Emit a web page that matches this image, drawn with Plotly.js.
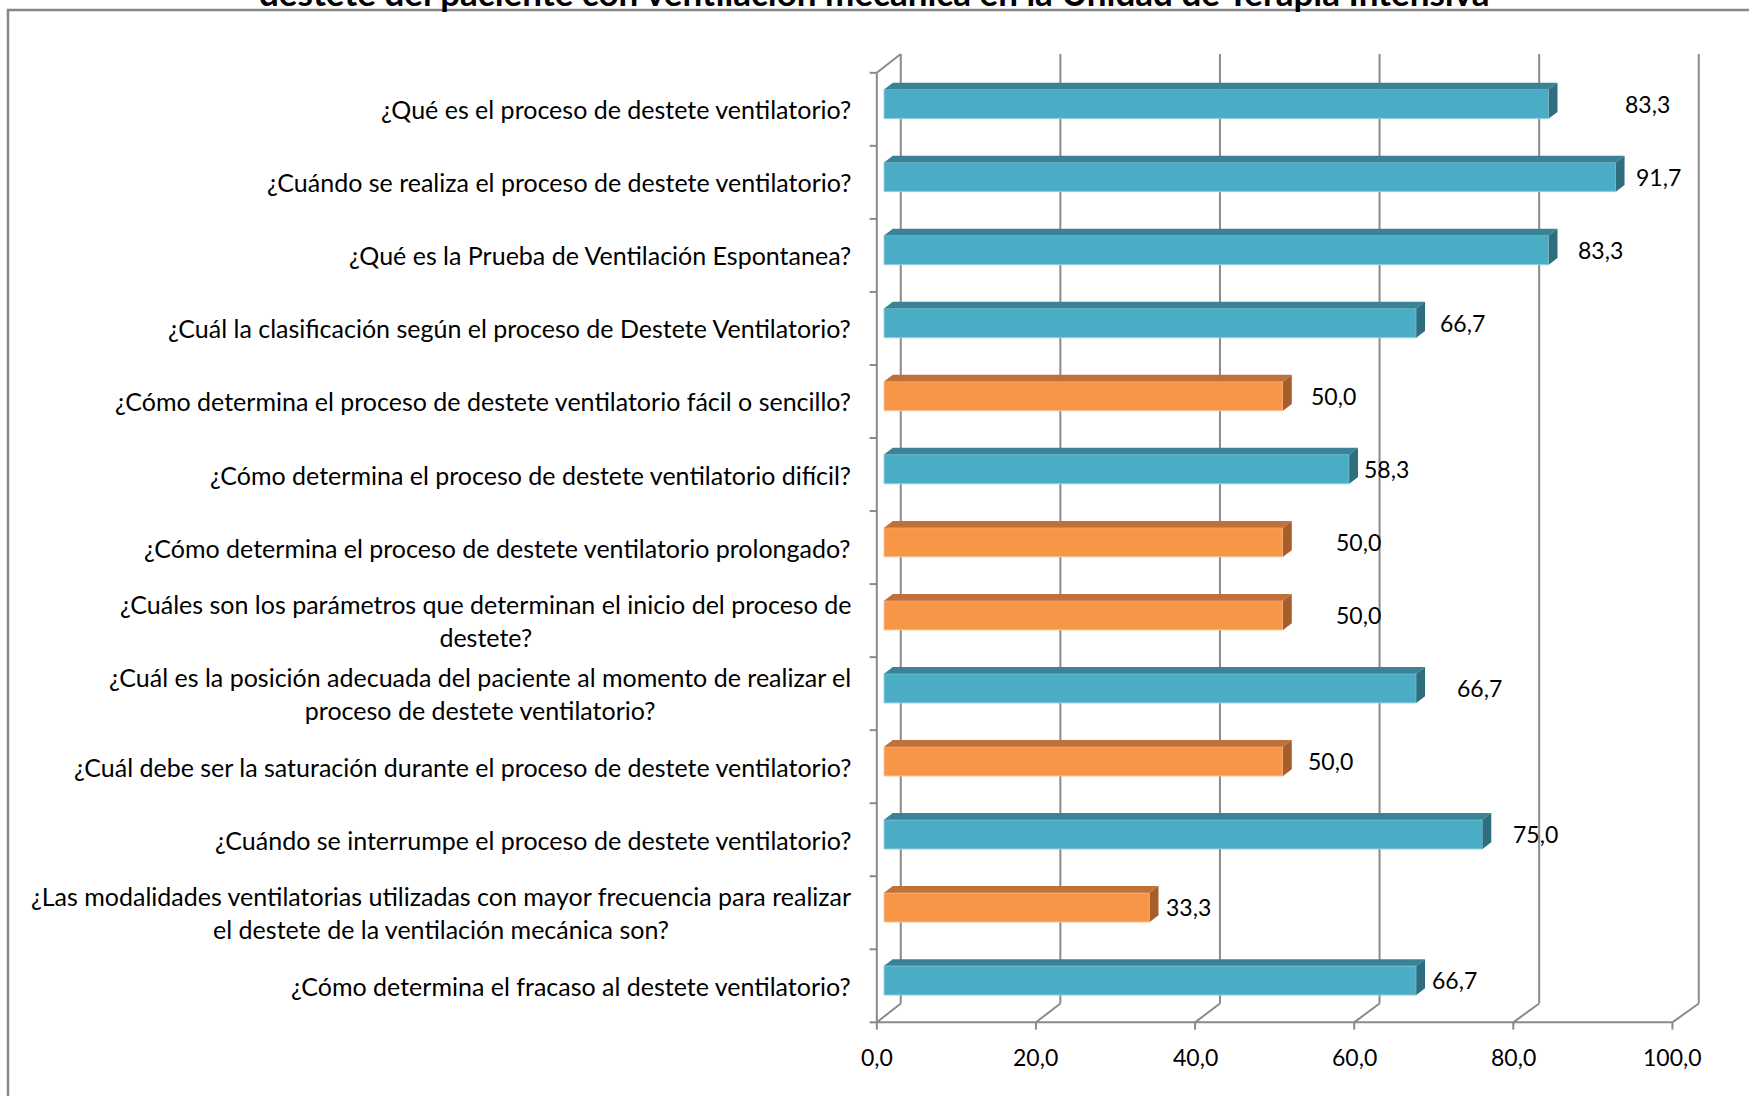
<!DOCTYPE html>
<html>
<head>
<meta charset="utf-8">
<script src="https://cdn.plot.ly/plotly-3.0.1.min.js"></script>
<style>
  html, body { margin: 0; padding: 0; background: #ffffff; }
  #chart { width: 1749px; height: 1096px; }
</style>
</head>
<body>
<div id="chart"></div>
<script>
// Preguntas del cuestionario (eje de categorías)
const preguntas = [
  "¿Qué es el proceso de destete ventilatorio?",
  "¿Cuándo se realiza el proceso de destete ventilatorio?",
  "¿Qué es la Prueba de Ventilación Espontanea?",
  "¿Cuál la clasificación según el proceso de Destete Ventilatorio?",
  "¿Cómo determina el proceso de destete ventilatorio fácil o sencillo?",
  "¿Cómo determina el proceso de destete ventilatorio difícil?",
  "¿Cómo determina el proceso de destete ventilatorio prolongado?",
  "¿Cuáles son los parámetros que determinan el inicio del proceso de<br>destete?",
  "¿Cuál es la posición adecuada del paciente al momento de realizar el<br>proceso de destete ventilatorio?",
  "¿Cuál debe ser la saturación durante el proceso de destete ventilatorio?",
  "¿Cuándo se interrumpe el proceso de destete ventilatorio?",
  "¿Las modalidades ventilatorias utilizadas con mayor frecuencia para realizar<br>el destete de la ventilación mecánica son?",
  "¿Cómo determina el fracaso al destete ventilatorio?"
];

// Porcentaje de respuestas correctas
const porcentajes = [83.3, 91.7, 83.3, 66.7, 50.0, 58.3, 50.0, 50.0, 66.7, 50.0, 75.0, 33.3, 66.7];

// Marcas del eje de valores
const marcasEje = [0, 20, 40, 60, 80, 100];

const tituloTexto = "destete del paciente con ventilación mecánica en la Unidad de Terapia Intensiva";

// ---- estilo / geometría ----
const FONT = "Lato, 'Open Sans', sans-serif";
const W = 1749, H = 1096;
const M = { l: 860, r: 35, t: 40, b: 56 };
const PX0 = 884, KX = 7.98;     // píxel del valor 0 y píxeles por unidad (plano de las barras)
const PY0 = 104, KY = 73.04;    // píxel de la primera categoría y píxeles por categoría
const plotW = W - M.l - M.r, plotH = H - M.t - M.b;
const xRange = [(M.l - PX0) / KX, (W - M.r - PX0) / KX];
const yRange = [(H - M.b - PY0) / KY, (M.t - PY0) / KY];
const px2paperX = p => (p - M.l) / plotW;
const px2paperY = p => (H - M.b - p) / plotH;
const y2paper = y => px2paperY(PY0 + y * KY);

const azulFrente = "#4BACC6", azulArriba = "#3A8397", azulLado = "#2F6E7E";
const naranjaFrente = "#F79646", naranjaArriba = "#C0713A", naranjaLado = "#A65E2C";
const gris = "#8A8A8A";

const BAR_H = 0.4;          // alto de la cara frontal (en categorías)
const DEPTH_X = 1.1;        // profundidad de la barra en x (unidades)
const DEPTH_Y = 0.092;      // profundidad de la barra en y (categorías)
const FRONT_DX = -0.9, FRONT_DY = 0.073;  // plano frontal de los ejes
const BACK_DX = 2.1, BACK_DY = -0.185;    // pared del fondo
const frontScale = 0.997;

// Desplazamiento horizontal de cada etiqueta de datos
const desplazEtiqueta = [12.4, 5.4, 6.5, 5.8, 6.3, 4.7, 9.4, 9.4, 7.9, 5.9, 6.6, 4.9, 4.8];

const idx = porcentajes.map((_, i) => i);
const esBajo = porcentajes.map(v => v <= 50);
const fmt = v => v.toFixed(1).replace(".", ",");

const shapes = [];
const annotations = [];

// Marco exterior del gráfico
shapes.push({
  type: "rect", xref: "paper", yref: "paper", layer: "above",
  x0: px2paperX(8), x1: px2paperX(1770), y0: px2paperY(10), y1: px2paperY(1120),
  line: { color: "#868686", width: 2.5 }, fillcolor: "rgba(0,0,0,0)"
});

const n = porcentajes.length;
const frontTop = -0.5 + FRONT_DY, frontBot = n - 0.5 + FRONT_DY;
const backTop = -0.5 + BACK_DY, backBot = n - 0.5 + BACK_DY;
const line = (x0, y0, x1, y1, w) => ({
  type: "line", xref: "x", yref: "y", layer: "below",
  x0, y0, x1, y1, line: { color: gris, width: w || 2 }
});

// Pared del fondo: líneas de división verticales
marcasEje.forEach(v => {
  shapes.push(line(v + BACK_DX, backTop, v + BACK_DX, backBot));
  // diagonales del piso
  const xf = FRONT_DX + v * frontScale;
  shapes.push(line(xf, frontBot, v + BACK_DX, backBot));
  // marcas hacia abajo del eje frontal
  shapes.push(line(xf, frontBot, xf, frontBot + 0.1));
});
// Borde frontal del piso
shapes.push(line(FRONT_DX, frontBot, FRONT_DX + 100 * frontScale, frontBot));
// Eje de categorías (frontal) y su diagonal superior
shapes.push(line(FRONT_DX, frontTop, FRONT_DX, frontBot));
shapes.push(line(FRONT_DX, frontTop, BACK_DX, backTop));
for (let k = 0; k <= n; k++) {
  const yk = frontTop + k;
  shapes.push(line(FRONT_DX - 0.9, yk, FRONT_DX, yk));
}

// Caras superior y lateral de cada barra (efecto 3D)
porcentajes.forEach((v, i) => {
  const y0 = i - BAR_H / 2, y1 = i + BAR_H / 2;
  const yt = y0 - DEPTH_Y;
  shapes.push({
    type: "path", xref: "x", yref: "y", layer: "above",
    path: `M 0,${y0} L ${v},${y0} L ${v + DEPTH_X},${yt} L ${DEPTH_X},${yt} Z`,
    fillcolor: esBajo[i] ? naranjaArriba : azulArriba, line: { width: 0 }
  });
  shapes.push({
    type: "path", xref: "x", yref: "y", layer: "above",
    path: `M ${v},${y0} L ${v + DEPTH_X},${yt} L ${v + DEPTH_X},${y1 - DEPTH_Y} L ${v},${y1} Z`,
    fillcolor: esBajo[i] ? naranjaLado : azulLado, line: { width: 0 }
  });
  // etiqueta de valor
  annotations.push({
    xref: "x", yref: "y", x: v + desplazEtiqueta[i], y: i,
    text: fmt(v), showarrow: false, xanchor: "center", yanchor: "middle",
    font: { family: FONT, size: 23, color: "#000000" }
  });
  // etiqueta de categoría
  annotations.push({
    xref: "paper", yref: "y", x: px2paperX(853), y: i + FRONT_DY,
    text: preguntas[i], showarrow: false, xanchor: "right", yanchor: "middle",
    align: "center",
    font: { family: FONT, size: 25, color: "#000000" }
  });
});

// Rótulos del eje de valores
marcasEje.forEach(v => {
  annotations.push({
    xref: "x", yref: "paper", x: FRONT_DX + v * frontScale, y: y2paper(frontBot + 0.47),
    text: fmt(v), showarrow: false, xanchor: "center", yanchor: "middle",
    font: { family: FONT, size: 23, color: "#000000" }
  });
});

// Título (su última línea asoma en el borde superior)
annotations.push({
  xref: "paper", yref: "paper", x: px2paperX(874), y: px2paperY(-8),
  text: "<b>" + tituloTexto + "</b>", showarrow: false,
  xanchor: "center", yanchor: "middle",
  font: { family: FONT, size: 35, color: "#000000" }
});

const trace = {
  type: "bar", orientation: "h",
  x: porcentajes, y: idx, width: BAR_H,
  marker: {
    color: esBajo.map(b => b ? naranjaFrente : azulFrente),
    line: { color: esBajo.map(b => b ? "#FBC49A" : "#93D2E2"), width: 1 }
  },
  hoverinfo: "x+y"
};

const layout = {
  width: W, height: H,
  margin: { l: M.l, r: M.r, t: M.t, b: M.b, pad: 0 },
  paper_bgcolor: "#ffffff", plot_bgcolor: "rgba(0,0,0,0)",
  showlegend: false,
  xaxis: { range: xRange, showgrid: false, zeroline: false, showticklabels: false, showline: false, ticks: "" },
  yaxis: { range: yRange, showgrid: false, zeroline: false, showticklabels: false, showline: false, ticks: "" },
  shapes, annotations
};

Plotly.newPlot("chart", [trace], layout, { displayModeBar: false, staticPlot: true });
</script>
</body>
</html>
